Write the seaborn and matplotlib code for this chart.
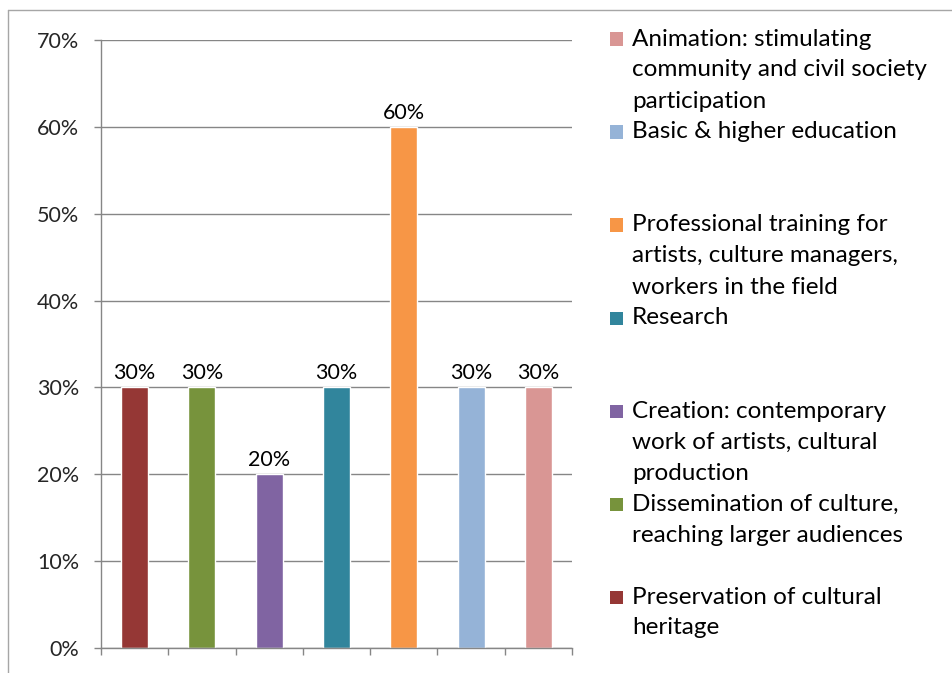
import matplotlib
matplotlib.use("Agg")
import matplotlib.pyplot as plt
from matplotlib.patches import Rectangle
from matplotlib.lines import Line2D
import seaborn as sns
import pandas as pd

categories = [
    "Preservation of cultural\nheritage",
    "Dissemination of culture,\nreaching larger audiences",
    "Creation: contemporary\nwork of artists, cultural\nproduction",
    "Research",
    "Professional training for\nartists, culture managers,\nworkers in the field",
    "Basic & higher education",
    "Animation: stimulating\ncommunity and civil society\nparticipation",
]
values = [30, 30, 20, 30, 60, 30, 30]
colors = ["#953735", "#77933C", "#8064A2", "#31859C", "#F79646", "#95B3D7", "#D99694"]
y_ticks = [0, 10, 20, 30, 40, 50, 60, 70]

sns.set_theme(style="white")
plt.rcParams["font.family"] = ["Lato", "DejaVu Sans"]

W, H = 953, 673
fig = plt.figure(figsize=(W / 100, H / 100), dpi=100)
ax = fig.add_axes([101 / W, 1 - 648 / H, 471 / W, 608 / H])

df = pd.DataFrame({"category": categories, "value": values})
sns.barplot(data=df, x="category", y="value", hue="category", palette=colors,
            order=categories, hue_order=categories, dodge=False, width=0.4,
            legend=False, ax=ax, saturation=1)

grid_c = "#868686"
ax.set_ylim(0, 70)
ax.set_xlim(-0.5, len(categories) - 0.5)
ax.set_yticks(y_ticks)
ax.set_yticklabels([f"{v}%" for v in y_ticks], fontsize=15.5)
ax.yaxis.grid(True, color=grid_c, linewidth=1)
ax.set_axisbelow(True)
ax.set_xticks([i - 0.5 for i in range(len(categories) + 1)])
ax.set_xticklabels([])
ax.set_xlabel("")
ax.set_ylabel("")
ax.tick_params(axis="both", which="major", length=5, width=1, color=grid_c,
               direction="out", left=True, bottom=True)
ax.tick_params(axis="y", pad=10.5)
for side in ["top", "right"]:
    ax.spines[side].set_visible(False)
for side in ["left", "bottom"]:
    ax.spines[side].set_color(grid_c)
    ax.spines[side].set_linewidth(1)

for i, v in enumerate(values):
    ax.annotate(f"{v}%", (i, v), xytext=(0, 3), textcoords="offset points",
                ha="center", va="bottom", fontsize=15.5, color="black")

# legend, listed top to bottom in reverse order
step = 93
line_h = 31
first_y = 39
for k, idx in enumerate(reversed(range(len(categories)))):
    yc = first_y + k * step
    fig.patches.append(Rectangle((610 / W, 1 - (yc + 6.5) / H), 13 / W, 13 / H,
                                 transform=fig.transFigure, facecolor=colors[idx],
                                 edgecolor="none"))
    for j, line in enumerate(categories[idx].split("\n")):
        fig.text(632 / W, 1 - (yc + j * line_h) / H, line, fontsize=17.5,
                 ha="left", va="center", color="black")

# outer chart border
frame_c = "#A6A6A6"
fig.add_artist(Line2D([8 / W, 1], [1 - 10 / H, 1 - 10 / H], transform=fig.transFigure,
                      color=frame_c, linewidth=1))
fig.add_artist(Line2D([8 / W, 8 / W], [0, 1 - 10 / H], transform=fig.transFigure,
                      color=frame_c, linewidth=1))

fig.savefig("out.png", dpi=100, facecolor="white")
